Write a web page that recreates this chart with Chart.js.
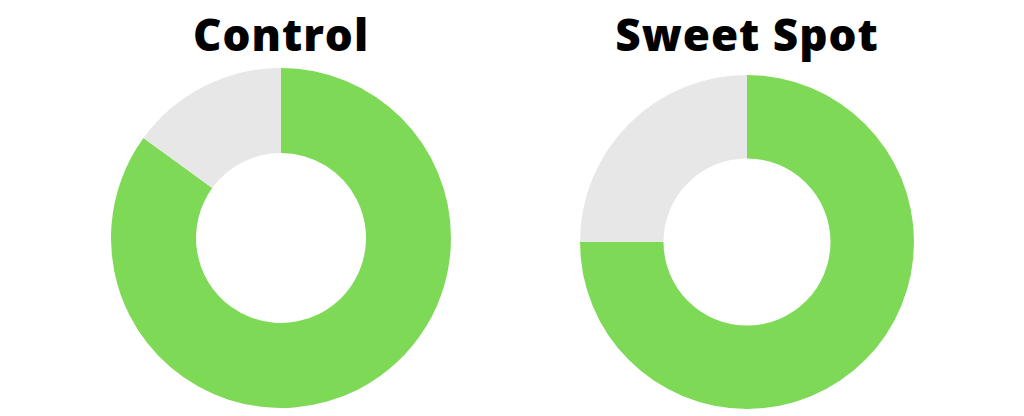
<!DOCTYPE html>
<html>
<head>
<meta charset="utf-8">
<script src="https://cdn.jsdelivr.net/npm/chart.js@4"></script>
<style>
  html, body { margin: 0; padding: 0; background: #fff; width: 1024px; height: 416px; overflow: hidden; }
  .title { position: absolute; top: 4px; width: 400px; text-align: center; font-family: "Open Sans", sans-serif; font-weight: 800; font-size: 44px; letter-spacing: 1px; color: #000; line-height: 60px; }
  .box { position: absolute; }
</style>
</head>
<body>
<div class="title" style="left:81px">Control</div>
<div class="title" style="left:547px">Sweet Spot</div>
<div class="box" style="left:111px; top:68px; width:340px; height:340px"><canvas id="controlChart"></canvas></div>
<div class="box" style="left:580px; top:75px; width:334px; height:334px"><canvas id="sweetChart"></canvas></div>
<script>
    const categories = ['Yes', 'No'];
    const controlValues = [85, 15];
    const sweetSpotValues = [75, 25];
    const colors = ['#7ed957', '#e7e7e7'];

    function renderDoughnut(id, data) {
        const ctx = document.getElementById(id).getContext('2d');
        return new Chart(ctx, {
            type: 'doughnut',
            data: {
                labels: categories,
                datasets: [{
                    data: data,
                    backgroundColor: colors,
                    borderWidth: 0,
                    hoverOffset: 0
                }]
            },
            options: {
                responsive: true,
                maintainAspectRatio: false,
                animation: false,
                cutout: '50%',
                layout: { padding: 0 },
                plugins: { legend: { display: false }, tooltip: { enabled: false } }
            }
        });
    }

    renderDoughnut('controlChart', controlValues);
    renderDoughnut('sweetChart', sweetSpotValues);
</script>
</body>
</html>
